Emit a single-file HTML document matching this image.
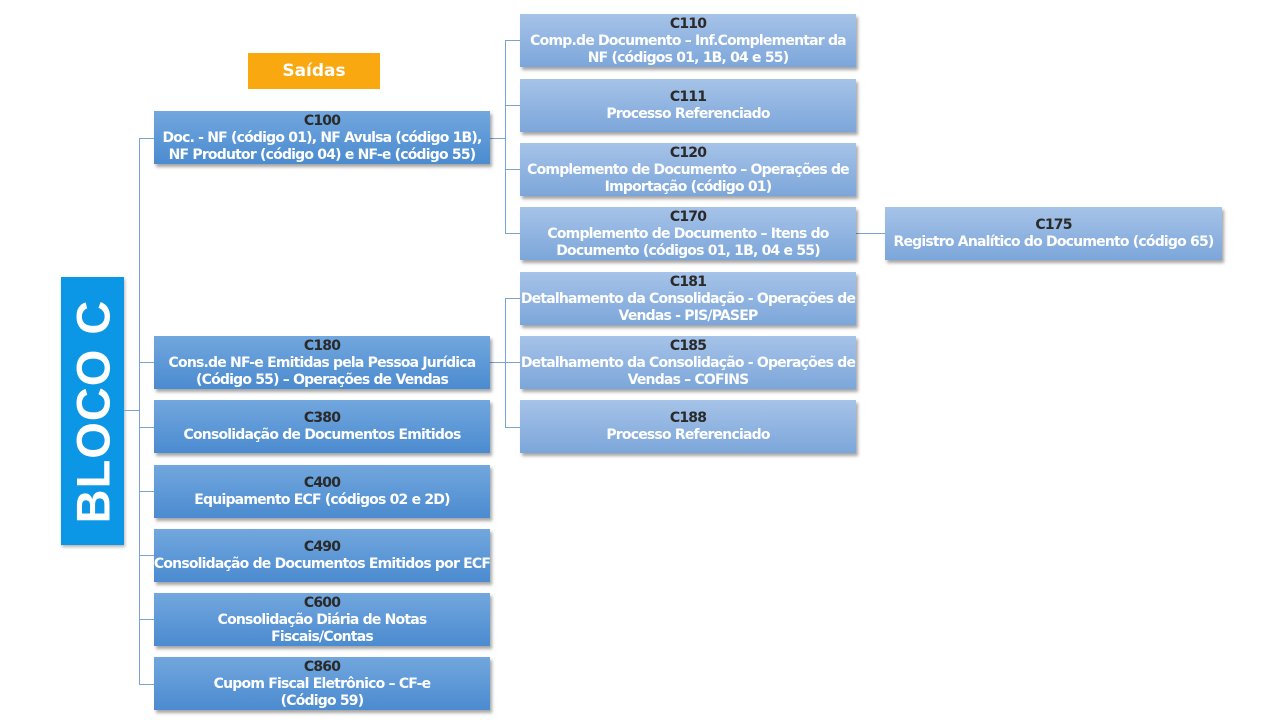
<!DOCTYPE html>
<html><head><meta charset="utf-8"><style>
body{margin:0;width:1280px;height:720px;background:#fff;position:relative;overflow:hidden;font-family:"DejaVu Sans","Liberation Sans",sans-serif;}
.b{position:absolute;box-sizing:border-box;display:flex;flex-direction:column;justify-content:center;align-items:center;text-align:center;color:#fff;font-weight:bold;font-size:14px;line-height:17px;padding-top:1px;box-shadow:2px 3px 3px rgba(0,0,0,0.35);letter-spacing:-0.8px;white-space:nowrap}
.b b{color:#2a2a2a}
.L{left:154px;width:336px;height:53px;background:linear-gradient(#72a7de,#4b8bd0)}
.R{left:520px;width:336px;height:53px;background:linear-gradient(#a6c3e8,#7ca6da)}
.ln{position:absolute;background:#7aa3d6}
</style></head><body>
<div class="b" style="left:248px;top:53px;width:132px;height:36px;background:#f9a80f;box-shadow:none;font-size:17px;letter-spacing:0">Saídas</div>
<div class="b" style="left:61px;top:277px;width:63px;height:268px;background:#0b96e6;box-shadow:1px 2px 3px rgba(0,0,0,0.3)"><span style="transform:rotate(-90deg);font-size:47px;font-weight:bold;white-space:nowrap;font-family:'Liberation Sans',sans-serif;letter-spacing:1px">BLOCO C</span></div>

<div class="ln" style="left:124px;top:410px;width:15px;height:1px"></div>
<div class="ln" style="left:139px;top:138px;width:1px;height:547px"></div>
<div class="ln" style="left:139px;top:138px;width:15px;height:1px"></div>
<div class="ln" style="left:139px;top:362px;width:15px;height:1px"></div>
<div class="ln" style="left:139px;top:427px;width:15px;height:1px"></div>
<div class="ln" style="left:139px;top:491px;width:15px;height:1px"></div>
<div class="ln" style="left:139px;top:555px;width:15px;height:1px"></div>
<div class="ln" style="left:139px;top:619px;width:15px;height:1px"></div>
<div class="ln" style="left:139px;top:684px;width:15px;height:1px"></div>

<div class="ln" style="left:490px;top:138px;width:15px;height:1px"></div>
<div class="ln" style="left:505px;top:40px;width:1px;height:194px"></div>
<div class="ln" style="left:505px;top:40px;width:15px;height:1px"></div>
<div class="ln" style="left:505px;top:105px;width:15px;height:1px"></div>
<div class="ln" style="left:505px;top:169px;width:15px;height:1px"></div>
<div class="ln" style="left:505px;top:233px;width:15px;height:1px"></div>
<div class="ln" style="left:856px;top:233px;width:29px;height:1px"></div>
<div class="ln" style="left:490px;top:362px;width:15px;height:1px"></div>
<div class="ln" style="left:505px;top:298px;width:1px;height:129px"></div>
<div class="ln" style="left:505px;top:298px;width:15px;height:1px"></div>
<div class="ln" style="left:505px;top:362px;width:15px;height:1px"></div>
<div class="ln" style="left:505px;top:427px;width:15px;height:1px"></div>

<div class="b L" style="top:111px"><b>C100</b>Doc. - NF (código 01), NF Avulsa (código 1B),<br>NF Produtor (código 04) e NF-e (código 55)</div>
<div class="b L" style="top:336px"><b>C180</b>Cons.de NF-e Emitidas pela Pessoa Jurídica<br>(Código 55) – Operações de Vendas</div>
<div class="b L" style="top:400px"><b>C380</b>Consolidação de Documentos Emitidos</div>
<div class="b L" style="top:465px"><b>C400</b>Equipamento ECF (códigos 02 e 2D)</div>
<div class="b L" style="top:529px"><b>C490</b>Consolidação de Documentos Emitidos por ECF</div>
<div class="b L" style="top:593px"><b>C600</b>Consolidação Diária de Notas<br>Fiscais/Contas</div>
<div class="b L" style="top:657px"><b>C860</b>Cupom Fiscal Eletrônico – CF-e<br>(Código 59)</div>

<div class="b R" style="top:14px"><b>C110</b>Comp.de Documento – Inf.Complementar da<br>NF (códigos 01, 1B, 04 e 55)</div>
<div class="b R" style="top:79px"><b>C111</b>Processo Referenciado</div>
<div class="b R" style="top:143px"><b>C120</b>Complemento de Documento – Operações de<br>Importação (código 01)</div>
<div class="b R" style="top:207px"><b>C170</b>Complemento de Documento – Itens do<br>Documento (códigos 01, 1B, 04 e 55)</div>
<div class="b R" style="top:272px"><b>C181</b>Detalhamento da Consolidação - Operações de<br>Vendas - PIS/PASEP</div>
<div class="b R" style="top:336px"><b>C185</b>Detalhamento da Consolidação - Operações de<br>Vendas – COFINS</div>
<div class="b R" style="top:400px"><b>C188</b>Processo Referenciado</div>
<div class="b R" style="top:207px;left:885px;width:337px"><b>C175</b>Registro Analítico do Documento (código 65)</div>
</body></html>
